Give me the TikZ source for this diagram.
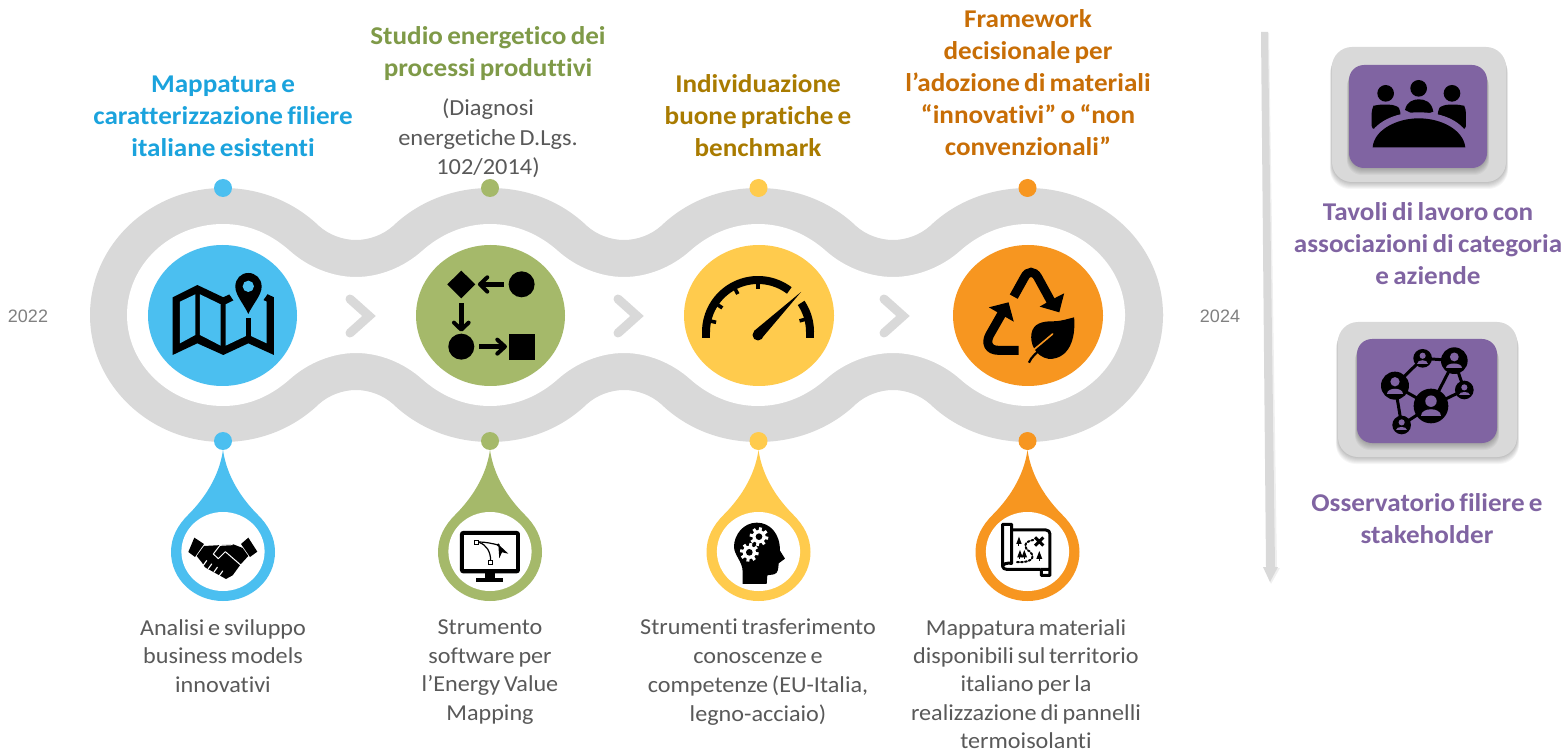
\documentclass[tikz,border=0pt]{standalone}
\usepackage{fontspec}
\setmainfont{Carlito}
\newfontfamily\bodyf[FakeStretch=1.06,Ligatures=NoCommon,WordSpace=0.75]{Carlito}
\newfontfamily\titlef[FakeStretch=1.06,Ligatures=NoCommon,WordSpace=0.7,BoldFont=Carlito Bold]{Carlito}
\newfontfamily\yearf{Liberation Sans}
\definecolor{cblue}{HTML}{4BBFF0}
\definecolor{cgreen}{HTML}{A5B96A}
\definecolor{cyellow}{HTML}{FFCB4D}
\definecolor{corange}{HTML}{F79620}
\definecolor{cgray}{HTML}{D9D9D9}
\definecolor{cpurple}{HTML}{8064A2}
\definecolor{tblue}{HTML}{1BA3DD}
\definecolor{tgreen}{HTML}{7F9A48}
\definecolor{tgold}{HTML}{A97B00}
\definecolor{torange}{HTML}{C86E06}
\definecolor{tbody}{HTML}{595959}
\tikzset{
 zm/.style n args={4}{shift={(#1pt,-#2pt)},x=#3pt,y=-#4pt},
 titletext/.style={align=center,inner sep=0pt,font=\titlef\fontsize{25.6}{32}\selectfont\bfseries},
 bodytext/.style={align=center,inner sep=0pt,text=tbody,font=\bodyf\fontsize{22.8}{28.8}\selectfont},
 yeartext/.style={inner sep=0pt,text=black!50,font=\yearf\fontsize{18}{20}\selectfont},
 chevron/.style={draw=cgray,line width=9pt,line cap=round,miter limit=10},
}
\newcommand\outerhalf{(90,315) .. controls (90,245) and (150,188) .. (223,188)
 .. controls (262,188) and (295,203) .. (319,226) .. controls (329,235) and (343,240) .. (356,240)
 .. controls (369,240) and (383,235) .. (393,226) .. controls (417,203) and (451,188) .. (490,188)
 .. controls (530,188) and (563,203) .. (587,226) .. controls (597,235) and (611,240) .. (624,240)
 .. controls (637,240) and (651,235) .. (661,226) .. controls (685,203) and (718,188) .. (758,188)
 .. controls (798,188) and (832,203) .. (856,226) .. controls (866,235) and (880,240) .. (893,240)
 .. controls (906,240) and (920,235) .. (930,226) .. controls (954,203) and (988,188) .. (1028,188)
 .. controls (1103,188) and (1163,245) .. (1163,315) -- (1163,317) -- (90,317) -- cycle}
\newcommand\innerhalf{(127,315) .. controls (127,265) and (170,224) .. (223,224)
 .. controls (250,224) and (272,235) .. (290,251) .. controls (308,267) and (332,277) .. (356,277)
 .. controls (380,277) and (404,267) .. (422,251) .. controls (440,235) and (463,224) .. (490,224)
 .. controls (517,224) and (540,235) .. (558,251) .. controls (576,267) and (600,277) .. (624,277)
 .. controls (648,277) and (672,267) .. (690,251) .. controls (708,235) and (731,224) .. (758,224)
 .. controls (785,224) and (808,235) .. (826,251) .. controls (844,267) and (869,277) .. (893,277)
 .. controls (917,277) and (942,267) .. (960,251) .. controls (978,235) and (1001,224) .. (1028,224)
 .. controls (1080,224) and (1125,265) .. (1125,315) -- (1125,317) -- (127,317) -- cycle}
\newcommand\milestone[2]{%
 \begin{scope}[shift={(#1,0)}]
  \fill[#2] (0,188) circle[radius=9];
  \fill[#2] (0,441) circle[radius=9];
  \fill[#2] (0,450) .. controls (4,478) and (20,500) .. (35,515)
    .. controls (45,525) and (52,537) .. (52,552)
    .. controls (52,579) and (29,601) .. (0,601)
    .. controls (-29,601) and (-52,579) .. (-52,552)
    .. controls (-52,537) and (-45,525) .. (-35,515)
    .. controls (-20,500) and (-4,478) .. (0,450) -- cycle;
  \fill[white] (0,551.5) ellipse[x radius=41.6,y radius=39.5];
 \end{scope}}
\newcommand\softbox[5]{%
 \foreach \d in {1,...,7}{\fill[black,opacity=.035,rounded corners=#5pt]
   (#1-\d*0.3,#2+\d) rectangle (#3+\d*0.3,#4+\d);}}
\newcommand\person[3]{%
 \fill[black] (#1,#2) circle[radius=#3];
 \fill[cpurple] (#1,{#2-0.28*#3}) circle[radius={0.33*#3}];
 \fill[cpurple] ({#1-0.6*#3},{#2+0.58*#3}) .. controls ({#1-0.6*#3},{#2+0.08*#3}) and ({#1+0.6*#3},{#2+0.08*#3}) .. ({#1+0.6*#3},{#2+0.58*#3}) -- cycle;}
\newcommand\gearw[2]{%
 \fill[white] (#1,#2) circle[radius=20];
 \foreach \a in {0,45,...,315}{\draw[white,line width=3pt] (#1,#2) -- ({#1+28*cos(\a+10)},{#2+28*sin(\a+10)});}
 \fill[black] (#1,#2) circle[radius=10];}
\newcommand\tree[3]{%
 \fill[black] (#1,{#2-2*#3}) -- ({#1+#3*0.75},#2) -- ({#1-#3*0.75},#2) -- cycle;
 \fill[black] ({#1-1.5},#2) rectangle ({#1+1.5},{#2+#3*0.5});}
\begin{document}
\begin{tikzpicture}[x=1pt,y=-1pt]
\useasboundingbox (0,0) rectangle (1567,751);
\fill[white] (0,0) rectangle (1567,751);
% ribbon
\fill[cgray] \outerhalf;
\begin{scope}[shift={(0,630)},yscale=-1]\fill[cgray] \outerhalf;\end{scope}
\fill[white] \innerhalf;
\begin{scope}[shift={(0,630)},yscale=-1]\fill[white] \innerhalf;\end{scope}
% big discs
\fill[cblue] (222.5,315.5) ellipse[x radius=74.5,y radius=70.5];
\fill[cgreen] (490.5,315.5) ellipse[x radius=74.5,y radius=70.5];
\fill[cyellow] (759,315.5) ellipse[x radius=75,y radius=70.5];
\fill[corange] (1028,315.5) ellipse[x radius=75,y radius=70.5];
% chevrons
\coordinate (ch1a) at (350,299);\coordinate (ch1b) at (369,316);\coordinate (ch1c) at (350,333);
\coordinate (ch2a) at (618,299);\coordinate (ch2b) at (637,316);\coordinate (ch2c) at (618,333);
\coordinate (ch3a) at (884,299);\coordinate (ch3b) at (903,316);\coordinate (ch3c) at (884,333);
\draw[chevron] (ch1a) -- (ch1b) -- (ch1c);
\draw[chevron] (ch2a) -- (ch2b) -- (ch2c);
\draw[chevron] (ch3a) -- (ch3b) -- (ch3c);
% milestones
\milestone{223}{cblue}
\milestone{490}{cgreen}
\milestone{758.5}{cyellow}
\milestone{1027.5}{corange}
% map icon
\begin{scope}[zm={90}{180}{0.3333}{0.3333}]
 \fill[black] (248,352) -- (322,315) -- (400,352) -- (475,315) -- (552,352) -- (552,525) -- (475,490) -- (400,525) -- (322,490) -- (248,525) -- cycle;
 \fill[cblue] (270,365) -- (316,343) -- (316,465) -- (270,490) -- cycle;
 \fill[cblue] (330,343) -- (392,373) -- (392,497) -- (330,465) -- cycle;
 \fill[cblue] (407,373) -- (468,343) -- (468,468) -- (407,497) -- cycle;
 \fill[cblue] (483,343) -- (530,365) -- (530,490) -- (483,468) -- cycle;
 \fill[cblue] (475,425) -- (416,340) -- (412,290) -- (475,255) -- (538,290) -- (534,340) -- cycle;
 \fill[cblue] (468,300) rectangle (483,418);
 \fill[black] (468,415) rectangle (483,470);
 \fill[black] (475,402) .. controls (460,370) and (436,345) .. (436,320) .. controls (436,296) and (453,279) .. (475,279) .. controls (497,279) and (515,296) .. (515,320) .. controls (515,345) and (490,370) .. (475,402) -- cycle;
 \fill[cblue] (475,319) circle[radius=17];
 % flow icon
 \fill[black] (1072,313) -- (1114,272) -- (1156,313) -- (1114,355) -- cycle;
 \fill[black] (1295,313) circle[radius=39];
 \fill[black] (1114,500) circle[radius=39];
 \fill[black] (1257,462) rectangle (1335,540);
 \draw[black,line width=5pt] (1241,313) -- (1172,313);
 \draw[black,line width=4pt,line cap=round,line join=round] (1192,292) -- (1170,313) -- (1192,335);
 \draw[black,line width=5pt] (1114,370) -- (1114,445);
 \draw[black,line width=4pt,line cap=round,line join=round] (1092,428) -- (1114,449) -- (1136,428);
 \draw[black,line width=5pt] (1168,500) -- (1240,500);
 \draw[black,line width=4pt,line cap=round,line join=round] (1222,479) -- (1245,500) -- (1222,521);
\end{scope}
% gauge icon
\draw[black,line width=8pt] plot[domain=0:127,samples=40] ({758-52*cos(\x)},{332-52*sin(\x)});
\draw[black,line width=8pt] (706,331.5) -- (706,338);
\draw[black,line width=8pt] plot[domain=0:34,samples=20] ({758+52*cos(\x)},{332-52*sin(\x)}) ;
\draw[black,line width=8pt] (810,331.5) -- (810,338);
\foreach \a in {15,90,118,146,167}{\draw[black,line width=3.6pt] ({758+50*cos(\a)},{332-50*sin(\a)}) -- ({758+43*cos(\a)},{332-43*sin(\a)});}
\fill[black] (758,335) circle[radius=5.5];
\fill[black] (754,331) -- (801,292) -- (762,338) -- cycle;
% recycle icon
\begin{scope}[zm={600}{180}{0.3704}{0.3333}]
 \draw[black,line width=9pt] (1117,350) -- (1146,292) .. controls (1155,272) and (1172,272) .. (1182,292) -- (1218,365);
 \fill[black] (1253,340) -- (1240,397) -- (1187,380) -- (1218,360) -- cycle;
 \draw[black,line width=9pt] (1130,511) -- (1075,511) .. controls (1050,511) and (1040,490) .. (1052,465) -- (1088,395);
 \fill[black] (1050,382) -- (1103,367) -- (1117,425) -- (1090,408) -- cycle;
 \fill[black] (1280,412) .. controls (1285,480) and (1265,537) .. (1212,537) .. controls (1175,530) and (1160,490) .. (1165,460) .. controls (1170,430) and (1195,424) .. (1220,424) .. controls (1245,424) and (1262,417) .. (1280,412) -- cycle;
 \draw[corange,line width=1.6pt,line cap=round] (1222,462) -- (1165,515);
 \draw[black,line width=2.2pt] (1158,548) .. controls (1165,530) and (1175,522) .. (1205,492);
\end{scope}
% handshake
\begin{scope}[zm={150}{430}{0.3333}{0.3333}]
 \fill[black] (133,323) -- (162,342) -- (135,381) -- (115,366) -- cycle;
 \fill[black] (295,323) -- (322,365) -- (300,381) -- (273,342) -- cycle;
 \fill[black] (162,348) -- (200,346) -- (250,343) -- (278,354) -- (295,378) -- (272,403) -- (248,436) -- (228,447) -- (165,412) -- (156,398) -- (140,378) -- cycle;
 \draw[white,line width=1pt,line join=round] (248,344) -- (210,346) -- (190,372) -- (205,386) -- (226,365) -- (272,405);
 \foreach \p/\q in {170/392,185/402,202/412,218/423}{\draw[white,line width=1.1pt,line cap=round] (\p,\q) -- ({\p-10},{\q+14});}
 % monitor
 \fill[black,rounded corners=3pt] (930,303) rectangle (1110,430);
 \fill[white] (942,316) rectangle (1097,417);
 \fill[black] (1005,428) rectangle (1035,446);
 \fill[black] (978,443) rectangle (1060,457);
 \draw[black,line width=1.2pt] (987,336) .. controls (1005,336) and (1025,340) .. (1045,345);
 \draw[black,line width=1.2pt] (1022,392) .. controls (1022,365) and (1010,345) .. (987,337);
 \draw[black,line width=1pt,fill=white] (974,331) rectangle (987,344);
 \draw[black,line width=1pt,fill=white] (1016,391) rectangle (1029,404);
 \fill[black] (1045,345) circle[radius=5];
 \fill[black] (1045,343) -- (1075,371) -- (1056,367) -- (1048,385) -- cycle;
\end{scope}
% head with gears
\begin{scope}[zm={690}{430}{0.3333}{0.3333}]
 \fill[black] (158,462) -- (230,462) -- (232,436) -- (252,433) .. controls (265,430) and (265,415) .. (266,400) -- (285,386) -- (270,362) .. controls (270,310) and (240,278) .. (200,278) .. controls (160,278) and (132,315) .. (132,350) .. controls (132,375) and (158,395) .. (158,425) -- cycle;
 \gearw{207}{320}
 \gearw{178}{367}
 % treasure map
 \draw[black,line width=3pt,line join=round] (938,410) -- (938,283) -- (965,283) -- (965,400) .. controls (950,398) and (938,402) .. (938,410) .. controls (938,415) and (945,418) .. (950,418) -- (1052,418);
 \draw[black,line width=3pt,line join=round] (965,300) -- (1068,300) .. controls (1075,300) and (1080,305) .. (1080,312) -- (1080,436) -- (1054,436) -- (1054,418) -- (1080,418);
 \tree{987}{342}{11}
 \tree{990}{382}{11}
 \tree{1003}{382}{11}
 \tree{1048}{387}{12}
 \draw[black,line width=3pt] (1035,322) -- (1060,347) (1060,322) -- (1035,347);
 \draw[black,line width=2pt,dotted,line cap=round] (1030,330) .. controls (1000,335) and (1000,355) .. (1020,365) .. controls (1040,385) and (1020,400) .. (975,396);
\end{scope}
% year labels
\node[yeartext] (y22) at (28,316) {2022};
\node[yeartext] (y24) at (1220,316) {2024};
% timeline arrow
\fill[black,opacity=.06] (1262,33) -- (1269,33) -- (1277,568) -- (1280,568) -- (1271,584) -- (1264,568) -- (1268,568) -- cycle;
\fill[cgray] (1261,32) -- (1268,32) -- (1275,567) -- (1278,567) -- (1270,582) -- (1263,567) -- (1266,567) -- cycle;
% right boxes
\softbox{1332}{47}{1506}{182}{20}
\fill[cgray,rounded corners=20pt] (1332,47) rectangle (1506,182);
\softbox{1349}{65}{1487}{168}{15}
\fill[cpurple,rounded corners=15pt] (1349,65) rectangle (1487,168);
\softbox{1338}{322}{1517}{457}{20}
\fill[cgray,rounded corners=20pt] (1338,322) rectangle (1517,457);
\softbox{1357}{339}{1497}{443}{15}
\fill[cpurple,rounded corners=15pt] (1357,339) rectangle (1497,443);
% meeting icon
\begin{scope}[zm={1250}{30}{0.3333}{0.3333}]
 \fill[black] (407,190) circle[radius=25];
 \fill[black] (506,175) circle[radius=25];
 \fill[black] (606,190) circle[radius=25];
 \fill[black,rounded corners=4pt] (365,300) -- (365,238) .. controls (370,228) and (385,224) .. (405,224) .. controls (430,224) and (445,230) .. (452,245) -- (452,280) -- cycle;
 \fill[black] (465,240) .. controls (470,215) and (490,208) .. (506,208) .. controls (525,208) and (545,215) .. (550,245) -- (506,260) -- cycle;
 \fill[black,rounded corners=4pt] (648,300) -- (648,238) .. controls (643,228) and (628,224) .. (608,224) .. controls (585,224) and (570,230) .. (563,245) -- (563,280) -- cycle;
 \fill[cpurple] (355,320) .. controls (385,265) and (450,247) .. (506,247) .. controls (565,247) and (630,265) .. (658,320) -- cycle;
 \fill[black] (368,352) .. controls (372,300) and (440,265) .. (506,265) .. controls (575,265) and (640,300) .. (646,352) -- cycle;
\end{scope}
% network icon
\begin{scope}[zm={1250}{310}{0.3333}{0.3333}]
 \coordinate (n1) at (543,288);
 \coordinate (n2) at (435,227);
 \coordinate (n3) at (613,152);
 \coordinate (n4) at (518,145);
 \coordinate (n5) at (643,240);
 \coordinate (n6) at (455,345);
 \draw[black,line width=3pt] (n2) -- (n4) -- (n3) -- (n1) -- (n2) -- (n6) -- (n1) -- (n5) -- (n3);
 \person{543}{288}{52}
 \person{435}{227}{42}
 \person{613}{152}{40}
 \person{518}{145}{28}
 \person{643}{240}{28}
 \person{455}{345}{28}
\end{scope}
% titles
\node[titletext,text=tblue] (t1) at (223,116) {Mappatura e\\caratterizzazione filiere\\italiane esistenti};
\node[titletext,text=tgreen] (t2) at (488,54) {Studio energetico dei\\processi produttivi};
\node[bodytext,font=\bodyf\fontsize{23}{29.5}\selectfont] (t2b) at (488,138.5) {(Diagnosi\\energetiche D.Lgs.\\102/2014)};
\node[titletext,text=tgold] (t3) at (758,116) {Individuazione\\buone pratiche e\\benchmark};
\node[titletext,text=torange] (t4) at (1028,83) {Framework\\decisionale per\\l’adozione di materiali\\“innovativi” o “non\\convenzionali”};
% bodies
\node[bodytext] (b1) at (223,656) {Analisi e sviluppo\\business models\\innovativi};
\node[bodytext] (b2) at (490,672) {Strumento\\software per\\l’Energy Value\\Mapping};
\node[bodytext] (b3) at (758,672) {Strumenti trasferimento\\conoscenze e\\competenze (EU-Italia,\\legno-acciaio)};
\node[bodytext,font=\bodyf\fontsize{22.8}{28.3}\selectfont] (b4) at (1026,684) {Mappatura materiali\\disponibili sul territorio\\italiano per la\\realizzazione di pannelli\\termoisolanti};
% right labels
\node[titletext,text=cpurple] (r1) at (1428,244) {Tavoli di lavoro con\\associazioni di categoria\\e aziende};
\node[titletext,text=cpurple] (r2) at (1427,519) {Osservatorio filiere e\\stakeholder};
\end{tikzpicture}
\end{document}
